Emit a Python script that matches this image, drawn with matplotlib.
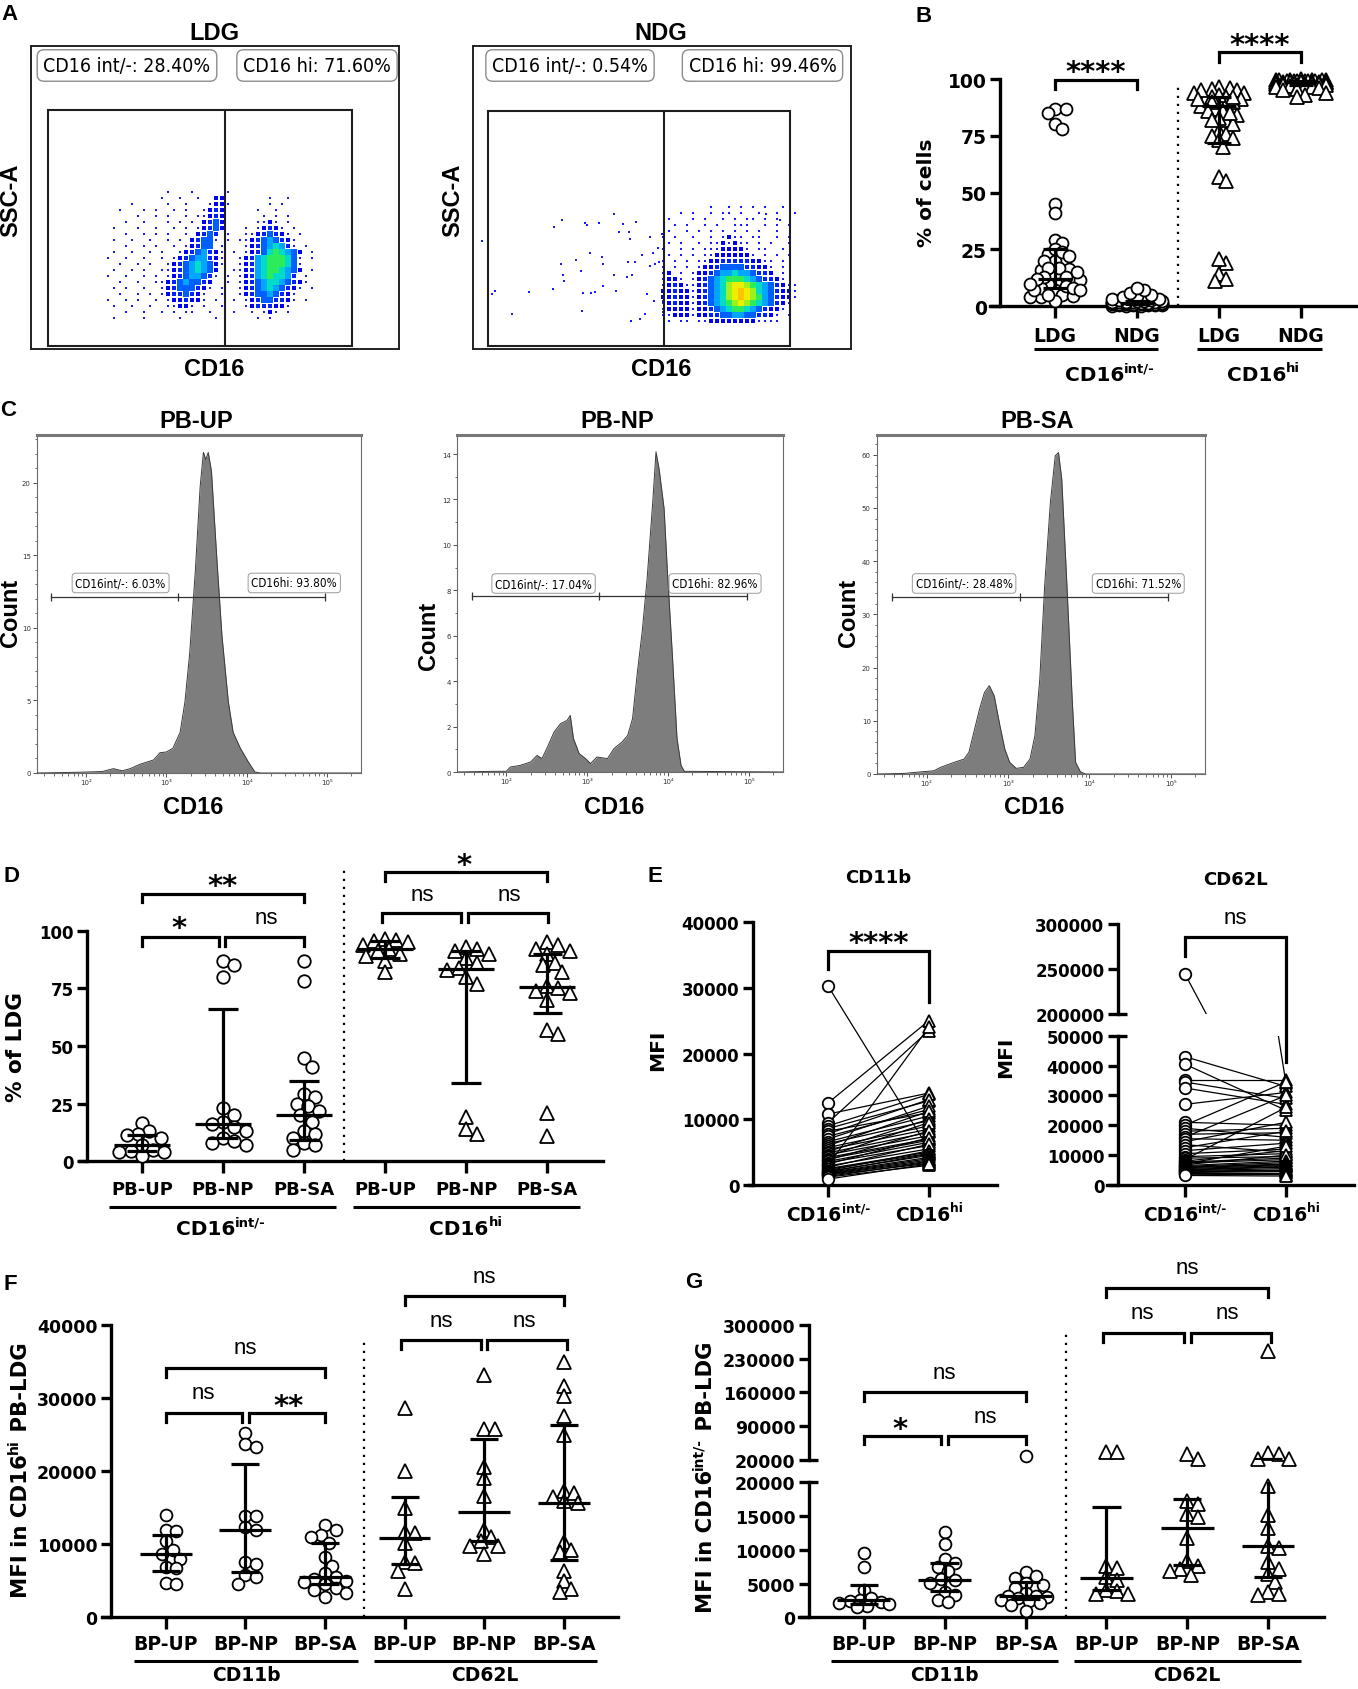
import numpy as np
import matplotlib
matplotlib.use('Agg')
import matplotlib.pyplot as plt
from matplotlib import font_manager
from matplotlib.patches import Rectangle
from matplotlib.transforms import blended_transform_factory
from matplotlib.ticker import FixedLocator, MultipleLocator, NullFormatter

# ============================ DATA ============================
# ---- Panel A: flow dot plots, density maps
# rows top->bottom, '.' = no events, 1..9,a = increasing event density
ldg_density = [
    "..........1...1.....1..............",
    ".........1..1..1..22.......1..1....",
    "....1.....1..1...1221......1.1.....",
    "..1...1.1..1.1..1232.....1..1......",
    ".....1..1.1..1.11232......1.1.1....",
    "...1..1...1.1.1.2342.....1121.1....",
    ".1...1..1..1.1.12342...1.12321.1...",
    "...1..1.1.1..1.2343.1..11234321.1..",
    ".1..1..1..1.1.23441.1.1123454321...",
    "...1..1.1..1.12344.1...123456531.1.",
    ".1..1..1.1..12345321.1.1234676542.1",
    "1..1..1..1.123455321..12356777641.1",
    "..1..1.1..1234565421..12356777641..",
    ".1..1.1..1123456542..112356776542.1",
    "1..1..1.1.123455431.1.1235676653.1.",
    "..1..1..1123454432..1.123456654321.",
    ".1.1..1..123444321.1..12345654321.1",
    "..1..1.1.12334321..1..1234454321...",
    "1..1.1..1.1223221.1..1.123443321.1.",
    ".1..1..1..11221.1..1...12333221....",
    "...1..1..1.1.11..1...1..1.121.1....",
    ".1....1.....1.....1......1.1.......",
]
ndg_density = [
    "........1..1.1.1.1..1...",
    "...1.1..1.11.1..1..1..1.",
    ".1...1.1..1.1.11.1.1....",
    "..1.1..1.1..111..1.1.1..",
    ".1..1.1.1.1.1.1.1..1....",
    "1.1..1..1.1211.11..1.1..",
    ".1.1..1.1121211.1.1..1..",
    "1..1.1.11122221.11..1...",
    ".1.1.1.112222221.1.1.1..",
    "1.1.1.1122333332211.1...",
    "1.1.1.1223444433221.1...",
    "12.1.12234556554332.1...",
    "1221.1234567776543321...",
    "12321123456899876543211.",
    "2232212345689a986543221.",
    "2232212345689a987543221.",
    "1232212345678987654321..",
    "122221223456776543221...",
    "11222122334455443321.1..",
    ".1.11.11222222221111....",
]
ndg_sparse_cd16 = [8.7, 18.7, 22, 38.7, 56.3, 79.7, 81, 88.7, 87.7, 90.3, 91, 103, 108, 109.3,
                   110.3, 112, 114.3, 117, 117.7, 122, 126.3, 128.7, 129.7, 129.7, 141, 141,
                   142.7, 145.7, 150.3, 153.7, 155.3, 156.3, 157, 159.3, 161.7, 162.7, 158,
                   167, 169, 172, 174.3, 177, 177, 180.3, 181.3, 182.3, 185.3, 186.3, 189.3,
                   189.7, 190.3, 307, 293]
ndg_sparse_ssc = [108.3, 55, 58.3, 35, 56.7, 60, 122.3, 129, 85, 74, 67.7, 89.3, 78.3, 37.7,
                  55.7, 125.7, 124.3, 95.7, 55.7, 56.7, 125.7, 92.3, 85, 63.3, 135, 74,
                  58.3, 116.7, 125, 72.3, 86.7, 116.7, 110, 74, 86.7, 126.7, 28.3,
                  30, 94.3, 35, 55, 112.3, 83.3, 95.7, 47.7, 85, 101, 86.7, 115,
                  36.7, 47.7, 129, 135]
ldg_gate_labels = ["CD16 int/-: 28.40%", "CD16 hi: 71.60%"]
ndg_gate_labels = ["CD16 int/-: 0.54%", "CD16 hi: 99.46%"]

# ---- Panel C: CD16 histograms (log10 CD16, count)
hist_titles = ["PB-UP", "PB-NP", "PB-SA"]
up_log = [1.39, 1.9, 2.2, 2.34, 2.45, 2.55, 2.67, 2.84, 2.92, 3.00, 3.08, 3.17, 3.23, 3.29,
          3.36, 3.42, 3.46, 3.49, 3.52, 3.56, 3.63, 3.69, 3.77, 3.83, 3.92, 4.02, 4.10, 4.17, 5.42]
up_cnt = [0, 0.05, 0.1, 0.3, 0.15, 0.3, 0.6, 0.9, 1.4, 1.45, 1.7, 2.8, 4.9, 8.3,
          14.0, 19.8, 22.1, 21.6, 22.1, 20.8, 14.5, 9.5, 4.9, 2.8, 1.7, 0.75, 0.07, 0, 0]
np_log = [1.39, 1.84, 2.0, 2.05, 2.17, 2.30, 2.38, 2.44, 2.50, 2.59, 2.67, 2.75, 2.79, 2.83,
          2.90, 2.98, 3.04, 3.12, 3.25, 3.33, 3.43, 3.50, 3.56, 3.62, 3.68, 3.74, 3.81, 3.85,
          3.89, 3.95, 3.99, 4.05, 4.11, 4.16, 4.20, 5.43]
np_cnt = [0, 0.03, 0.03, 0.22, 0.29, 0.44, 0.73, 0.59, 1.03, 1.76, 2.13, 2.27, 2.49, 1.47,
          0.81, 0.59, 0.37, 0.66, 0.59, 1.03, 1.32, 1.61, 2.35, 4.4, 6.2, 8.5, 11.9, 14.1,
          13.3, 11.6, 8.9, 5.3, 1.47, 0.29, 0.03, 0]
sa_log = [1.39, 1.72, 1.93, 2.09, 2.17, 2.34, 2.46, 2.52, 2.59, 2.65, 2.71, 2.77, 2.83, 2.90,
          2.96, 3.02, 3.10, 3.19, 3.27, 3.33, 3.39, 3.45, 3.52, 3.58, 3.62, 3.66, 3.72, 3.79,
          3.83, 3.89, 3.95, 5.43]
sa_cnt = [0, 0.1, 0.4, 0.6, 1.25, 2.2, 2.8, 4.1, 8.5, 12.2, 15.3, 16.6, 14.7, 9.1,
          4.7, 2.2, 1.06, 1.25, 2.8, 7.2, 17.8, 35.4, 51, 59.8, 60.4, 55.4, 36.6, 13.5,
          2.2, 0.4, 0, 0]
hist_gate_labels = [("CD16int/-: 6.03%", "CD16hi: 93.80%"),
                    ("CD16int/-: 17.04%", "CD16hi: 82.96%"),
                    ("CD16int/-: 28.48%", "CD16hi: 71.52%")]
hist_gate_count = [12.1, 7.73, 33.2]          # height of gate bar (count units)
hist_gate_log = [1.57, 3.15, 4.97]            # gate boundaries (log10 CD16)
hist_ymax = [23.3, 14.84, 63.7]
hist_yticks = [[0, 5, 10, 15, 20], [0, 2, 4, 6, 8, 10, 12, 14], [0, 10, 20, 30, 40, 50, 60]]

# ---- Panel D: % of LDG
d_groups = ["PB-UP", "PB-NP", "PB-SA"]
d_int_up = [16.5, 13, 12, 11.5, 10, 7, 5, 4.5, 4, 4, 2.5]
d_int_np = [87, 85, 80, 23, 20, 17, 16, 15, 13, 10, 9, 8, 7]
d_int_sa = [87, 78, 45, 41, 29, 28, 25, 24, 22, 20, 17, 13, 12, 10, 8, 7, 5]
d_hi_up = [96.5, 96, 95.5, 95, 94, 92, 91, 90, 89, 87, 82]
d_hi_np = [93, 92, 91, 90, 88, 86, 84, 83, 80, 77, 19, 14, 12]
d_hi_sa = [95, 94, 92, 91, 90, 86, 85, 82, 76, 75, 74, 73, 70, 57, 55, 21, 11]
d_int_med = [7, 16, 20];   d_int_q1 = [4.5, 10, 9.2];  d_int_q3 = [11.5, 66, 34.7]
d_hi_med = [92, 83.5, 75.7]; d_hi_q1 = [88, 34, 64.2]; d_hi_q3 = [95.5, 91, 89.9]

# ---- Panel B: % of cells, LDG vs NDG
b_groups = ["LDG", "NDG", "LDG", "NDG"]
b_ldg_int = d_int_up + d_int_np + d_int_sa
b_ndg_int = [0.2, 0.3, 0.3, 0.4, 0.5, 0.5, 0.6, 0.7, 0.8, 0.8, 0.9, 1.0, 1.0, 1.1, 1.2, 1.2,
             1.3, 1.4, 1.5, 1.5, 1.6, 1.7, 1.8, 2.0, 2.0, 2.1, 2.2, 2.4, 2.5, 2.6, 2.8, 3.0,
             3.2, 3.4, 3.6, 4.0, 4.5, 5.0, 6.0, 7.0, 8.0]
b_ldg_hi = d_hi_up + d_hi_np + d_hi_sa
b_ndg_hi = [99.8, 99.7, 99.7, 99.6, 99.5, 99.5, 99.4, 99.3, 99.2, 99.2, 99.1, 99.0, 99.0,
            98.9, 98.8, 98.8, 98.7, 98.6, 98.5, 98.5, 98.4, 98.3, 98.2, 98.0, 98.0, 97.9,
            97.8, 97.6, 97.5, 97.4, 97.2, 97.0, 96.8, 96.6, 96.4, 96.0, 95.5, 95.0, 94.0,
            93.0, 92.0]
b_med = [12, 1.5, 88, 98.5]; b_q1 = [8, 0.8, 72, 97.5]; b_q3 = [25, 2.5, 92, 99.2]

# ---- Panel E: paired MFI
e_cd11b_int = [30300, 12500, 10800, 9500, 9000, 8600, 8200, 7800, 7400, 7000, 6600, 6300, 6000,
               5700, 5400, 5100, 4900, 4600, 4400, 4200, 4000, 3800, 3600, 3400, 3200, 3000,
               2900, 2700, 2500, 2400, 2200, 2100, 2000, 1900, 1800, 1700, 1600, 1500, 1300,
               1200, 900]
e_cd11b_hi = [5500, 25000, 14000, 23500, 13800, 12800, 11000, 13000, 11500, 12000, 10500, 9800,
              11200, 9000, 8500, 10000, 8000, 7500, 9500, 7000, 6800, 8200, 6500, 6000, 7200,
              24000, 5500, 6200, 5000, 4800, 5200, 4500, 4700, 4200, 4000, 3800, 3600, 3300,
              3500, 3000, 3200]
e_cd62l_int = [245000, 43000, 40500, 35000, 34500, 32500, 27000, 21000, 20000, 19000, 18000,
               17000, 16000, 15500, 14500, 13500, 12500, 11500, 10500, 9500, 9000, 8500, 8000,
               7700, 7400, 7100, 6800, 6500, 6200, 6000, 5800, 5500, 5200, 5000, 4800, 4600,
               4400, 4200, 4000, 3600, 3200]
e_cd62l_hi = [34000, 33000, 25000, 35000, 29000, 27000, 31000, 20000, 34500, 16000, 19000,
              17500, 30000, 15000, 21000, 11000, 18000, 14000, 12000, 10500, 9500, 26000, 11500,
              9000, 8500, 13000, 10000, 8000, 7500, 7000, 6800, 6500, 6200, 6000, 5500, 5000,
              4800, 4500, 4000, 3500, 3000]

# ---- Panel F: MFI in CD16hi PB-LDG
f_groups = ["BP-UP", "BP-NP", "BP-SA"]
f_cd11b = [[14000, 11900, 11800, 10400, 9200, 8700, 8000, 6900, 6700, 4700, 4600],
           [25200, 23700, 23300, 13900, 13800, 12400, 11900, 7500, 7300, 5800, 5500, 4600],
           [12600, 12000, 11300, 11000, 10200, 8200, 7000, 6000, 5500, 5200, 5000, 4800, 4500,
            4000, 3800, 3300, 2800]]
f_cd62l = [[28600, 20000, 15000, 11700, 11500, 10200, 7500, 7400, 6400, 3900],
           [33200, 25800, 25700, 20600, 19000, 16600, 12000, 11000, 10500, 9800, 9700, 8700],
           [34900, 31700, 30300, 27600, 25000, 17300, 17000, 16500, 15900, 15700, 10300, 9200,
            9000, 6400, 5000, 3900, 3500]]
f_cd11b_med = [8700, 12000, 5500]; f_cd11b_q1 = [6300, 6200, 4600]; f_cd11b_q3 = [11300, 21000, 10100]
f_cd62l_med = [10900, 14400, 15700]; f_cd62l_q1 = [7300, 10400, 7800]; f_cd62l_q3 = [16500, 24400, 26300]

# ---- Panel G: MFI in CD16int/- PB-LDG
g_cd11b = [[9500, 7500, 4000, 2800, 2600, 2400, 2200, 2100, 1900, 1700, 1600],
           [12600, 10900, 8700, 8100, 7400, 6900, 5700, 5600, 5100, 3800, 3300, 2500, 2200],
           [28000, 6700, 6100, 5800, 5100, 4800, 4300, 3600, 3200, 3100, 3000, 2800, 2600, 2400,
            2100, 1800, 1000]]
g_cd62l = [[35500, 35000, 7600, 7300, 5900, 5600, 4100, 3900, 3500, 3400],
           [31800, 21400, 17200, 16800, 15300, 14800, 11700, 8300, 7600, 7100, 6800, 6200],
           [245000, 34000, 31800, 21400, 20500, 19500, 15200, 13200, 10500, 10200, 8200, 7200,
            6400, 5200, 3700, 3500, 3300]]
g_cd11b_med = [2500, 5600, 3200]; g_cd11b_q1 = [2000, 3850, 2700]; g_cd11b_q3 = [4800, 8100, 5200]
g_cd62l_med = [5750, 13200, 10500]; g_cd62l_q1 = [4000, 7800, 6000]; g_cd62l_q3 = [16300, 17500, 20500]

# ============================ STYLE ============================
plt.rcParams['font.family'] = ['Liberation Sans', 'DejaVu Sans']
plt.rcParams['font.weight'] = 'bold'
plt.rcParams['axes.linewidth'] = 1.0

_fonts = font_manager.fontManager.ttflist
HAS_DV_COND = any(f.name == 'DejaVu Sans' and str(f.stretch) == 'condensed' for f in _fonts)
HAS_NARROW = any(f.name == 'Liberation Sans Narrow' for f in _fonts)
FLOW_KW = dict(family='DejaVu Sans', stretch='condensed') if HAS_DV_COND else dict(family='DejaVu Sans')
FLOW_A_FS = 14 if HAS_DV_COND else 12.3
FLOW_C_FS = 8.4 if HAS_DV_COND else 7.4
NS_FAMILY = 'Liberation Sans Narrow' if HAS_NARROW else 'Liberation Sans'
NS_FS = 18 if HAS_NARROW else 16
STAR_FS = 21
GP = ['DejaVu Sans']          # font used for the GraphPad-style panels

W, H = 1358, 1690
fig = plt.figure(figsize=(W / 100, H / 100), dpi=100)
renderer = fig.canvas.get_renderer()


def add_ax(x0, y0, x1, y1):
    return fig.add_axes([x0 / W, 1 - y1 / H, (x1 - x0) / W, (y1 - y0) / H])


def ftext(x, y, s, **kw):
    kw.setdefault('ha', 'center')
    kw.setdefault('va', 'center')
    return fig.text(x / W, 1 - y / H, s, **kw)


def xtext(ax, x, py, s, **kw):
    tr = blended_transform_factory(ax.transData, fig.transFigure)
    kw.setdefault('ha', 'center')
    kw.setdefault('va', 'center')
    ax.text(x, 1 - py / H, s, transform=tr, clip_on=False, **kw)


def xline(ax, x0, x1, py, lw=2.2):
    tr = blended_transform_factory(ax.transData, fig.transFigure)
    ax.plot([x0, x1], [1 - py / H] * 2, transform=tr, color='k', lw=lw, clip_on=False,
            solid_capstyle='butt')


def text_width(s, fs):
    t = fig.text(0, 0, s, fontsize=fs, fontweight='bold', family=GP)
    w = t.get_window_extent(renderer).width
    t.remove()
    return w


def compose(cx, cy, parts, rotation=0):
    """parts: (text, fontsize, raise as fraction of base font px); cx, cy: image px, y from top"""
    widths = [text_width(s, fs) for s, fs, _ in parts]
    total = sum(widths)
    fs_px = parts[0][1] * 100 / 72
    if rotation == 0:
        x = cx - total / 2
        yb = (H - cy) - 0.36 * fs_px
        for (s, fs, r), w in zip(parts, widths):
            fig.text(x / W, (yb + r * fs_px) / H, s, fontsize=fs, fontweight='bold', family=GP,
                     ha='left', va='baseline')
            x += w
    else:
        y = (H - cy) - total / 2
        xb = cx + 0.36 * fs_px
        for (s, fs, r), w in zip(parts, widths):
            fig.text((xb - r * fs_px) / W, y / H, s, fontsize=fs, fontweight='bold', family=GP,
                     ha='left', va='baseline', rotation=90, rotation_mode='anchor')
            y += w


def sup_label(ax, x, py, base, sup, fs):
    cx = ax.transData.transform((x, 0))[0]
    compose(cx, py, [(base, fs, 0), (sup, fs * 0.66, 0.45)])


# panel letters
for lab, (x, y) in {'A': (10, 15), 'B': (924, 16), 'C': (8, 410), 'D': (11, 877),
                    'E': (655, 877), 'F': (10, 1285), 'G': (694, 1283)}.items():
    ftext(x, y, lab, fontsize=16, fontweight='bold')

# ============================ PANEL A ============================
LEVEL_COL = {1: '#1a1aff', 2: '#0000f2', 3: '#0022ff', 4: '#0060ff', 5: '#00a6ff',
             6: '#00dcc8', 7: '#2cec5a', 8: '#9cf21c', 9: '#eeee00', 10: '#ffc400'}
LEVEL_PX = {1: 2.3, 2: 3.2, 3: 4.2, 4: 5.2}


def render_density(ax, rows, x0, ytop, cell):
    pts = {}
    for r, row in enumerate(rows):
        for c, ch in enumerate(row):
            if ch in '.0 ':
                continue
            lv = 10 if ch == 'a' else int(ch)
            pts.setdefault(lv, []).append((x0 + cell * c + cell / 2, ytop - cell * r - cell / 2))
    for lv, p in sorted(pts.items()):
        p = np.array(p)
        px = LEVEL_PX.get(lv, cell + 0.4)
        ax.scatter(p[:, 0], p[:, 1], s=(px * 0.72) ** 2, marker='s', c=LEVEL_COL[lv],
                   linewidths=0, zorder=2)


def flow_box(ax, wbox, hbox, gate, line_x, labels, lab_x, lab_y):
    ax.set_xlim(0, wbox)
    ax.set_ylim(0, hbox)
    ax.set_xticks([])
    ax.set_yticks([])
    for s in ax.spines.values():
        s.set_linewidth(1.4)
        s.set_color('#222222')
    gx0, gy0, gx1, gy1 = gate
    ax.add_patch(Rectangle((gx0, gy0), gx1 - gx0, gy1 - gy0, fill=False, ec='#1e1e1e', lw=1.5, zorder=3))
    ax.plot([line_x, line_x], [gy0, gy1], color='#1e1e1e', lw=1.5, zorder=3)
    for s, x in zip(labels, lab_x):
        ax.text(x, lab_y, s, ha='center', va='center', fontsize=FLOW_A_FS, fontweight='normal',
                bbox=dict(boxstyle='round,pad=0.32,rounding_size=0.35', fc='white', ec='#8c8c8c', lw=1.0),
                zorder=4, **FLOW_KW)


axL = add_ax(31, 47, 399, 350)
flow_box(axL, 368, 303, (17, 3, 321, 239), 194, ldg_gate_labels, [96, 286], 283.5)
render_density(axL, ldg_density, 74, 160, 6)
ftext(214, 34, 'LDG', fontsize=17)
ftext(11, 200, 'SSC-A', fontsize=17, rotation=90)
ftext(214, 369, 'CD16', fontsize=17)

axN = add_ax(473, 47, 851, 350)
flow_box(axN, 378, 303, (15, 3, 317, 238), 191, ndg_gate_labels, [97, 289.5], 283.5)
render_density(axN, ndg_density, 187, 145, 6)
axN.scatter(ndg_sparse_cd16, ndg_sparse_ssc, s=(2.3 * 0.72) ** 2, marker='s', c=LEVEL_COL[1],
            linewidths=0, zorder=2)
ftext(661, 34, 'NDG', fontsize=17)
ftext(453, 200, 'SSC-A', fontsize=17, rotation=90)
ftext(661, 369, 'CD16', fontsize=17)

# ============================ PANEL C ============================
hist_boxes = [(37, 436, 361, 774), (457, 436, 783, 773), (877, 436, 1205, 775)]
hist_data = [(up_log, up_cnt), (np_log, np_cnt), (sa_log, sa_cnt)]
hist_title_x = [196, 617, 1037]
hist_count_xy = [(10, 613), (429, 636), (849, 613)]
hist_lab_log = [(2.43, 4.59), (2.46, 4.58), (2.46, 4.60)]
hist_lab_dy = [1.0, 0.57, 2.6]
for i in range(3):
    ax = add_ax(*hist_boxes[i])
    lx, cnt = hist_data[i]
    xs = 10 ** np.array(lx)
    ax.set_xscale('log')
    ax.set_xlim(10 ** 1.39, 10 ** 5.42)
    ax.set_ylim(0, hist_ymax[i])
    ax.fill_between(xs, cnt, 0, color='#7d7d7d', lw=0, zorder=2)
    ax.plot(xs, cnt, color='#3a3a3a', lw=0.7, zorder=3)
    for s in ax.spines.values():
        s.set_color('#6a6a6a')
        s.set_linewidth(0.8)
    ax.spines['top'].set_linewidth(2.2)
    ax.spines['top'].set_color('#777777')
    ax.set_yticks(hist_yticks[i])
    ax.set_yticklabels([str(t) for t in hist_yticks[i]], fontsize=5, fontweight='normal',
                       family='DejaVu Sans')
    step = hist_yticks[i][1] - hist_yticks[i][0]
    ax.yaxis.set_minor_locator(MultipleLocator(step / (5 if step >= 5 else 2)))
    ax.set_xticks([1e2, 1e3, 1e4, 1e5])
    ax.set_xticklabels(['10²', '10³', '10⁴', '10⁵'], fontsize=5, fontweight='normal',
                       family='DejaVu Sans')
    ax.xaxis.set_minor_locator(FixedLocator([m * 10 ** e for e in range(1, 6) for m in range(2, 10)]))
    ax.xaxis.set_minor_formatter(NullFormatter())
    ax.tick_params(which='major', length=3, width=0.6, colors='#333333', pad=1.5)
    ax.tick_params(which='minor', length=1.8, width=0.5, colors='#333333')
    gy = hist_gate_count[i]
    gl = 10 ** np.array(hist_gate_log)
    ax.plot([gl[0], gl[2]], [gy, gy], color='#333333', lw=0.9, zorder=4)
    ax.plot(gl, [gy] * 3, ls='none', marker='|', ms=6, mew=0.9, color='#333333', zorder=4)
    for s, lg in zip(hist_gate_labels[i], hist_lab_log[i]):
        ax.text(10 ** lg, gy + hist_lab_dy[i], s, ha='center', va='center', fontsize=FLOW_C_FS,
                fontweight='normal', zorder=5,
                bbox=dict(boxstyle='round,pad=0.28,rounding_size=0.3', fc='white', ec='#9a9a9a', lw=0.7),
                **FLOW_KW)
    ftext(hist_title_x[i], 421, hist_titles[i], fontsize=17)
    ftext(hist_count_xy[i][0], hist_count_xy[i][1], 'Count', fontsize=17, rotation=90)
    ftext(hist_title_x[i] - 3, 808, 'CD16', fontsize=17)


# ============================ GRAPHPAD HELPERS ============================
def gp_axes(ax, xlim, spine_x, ylim, yticks, xticks=None, bottom=True, fs=12.5, ylabels=None):
    ax.set_xlim(*xlim)
    ax.set_ylim(*ylim)
    ax.patch.set_visible(False)
    ax.spines['top'].set_visible(False)
    ax.spines['right'].set_visible(False)
    ax.spines['left'].set_position(('data', spine_x))
    ax.spines['left'].set_linewidth(2.4)
    ax.spines['bottom'].set_linewidth(2.4)
    ax.spines['bottom'].set_visible(bottom)
    ax.set_yticks(yticks)
    ax.set_yticklabels(ylabels if ylabels else [str(t) for t in yticks], fontsize=fs,
                       fontweight='bold', family=GP)
    ax.tick_params(axis='y', length=7, width=2.4, pad=2.5)
    if xticks is not None and bottom:
        ax.set_xticks(xticks)
        ax.set_xticklabels([])
        ax.tick_params(axis='x', length=8.5, width=2.4)
    else:
        ax.set_xticks([])


def swarm(ypx, d, maxw, mind_frac=0.85):
    ypx = np.asarray(ypx, float)
    order = np.argsort(-ypx, kind='stable')
    placed = []
    offs = np.zeros(len(ypx))
    mind = d * mind_frac
    step = d * 0.3
    cands = [0.0]
    k = 1
    while k * step <= maxw:
        cands += [k * step, -k * step]
        k += 1
    for i in order:
        y = ypx[i]
        best_o, best_pen = 0.0, None
        for o in cands:
            pen = 0.0
            for po, py in placed:
                dist = np.hypot(o - po, y - py)
                if dist < mind:
                    pen += mind - dist
            if pen == 0:
                best_o = o
                break
            if best_pen is None or pen < best_pen:
                best_o, best_pen = o, pen
        offs[i] = best_o
        placed.append((best_o, y))
    return offs


def draw_group(axmap, xc, vals, marker, stats, mw, cw, maxw, ms=8.5, mind=0.85, lw=2.3):
    vals = np.asarray(vals, float)
    axs = [axmap(v) for v in vals]
    ypx = [a.transData.transform((xc, v))[1] for a, v in zip(axs, vals)]
    dpx = ms / 0.72
    offs = swarm(ypx, dpx, maxw, mind)
    for a, v, o in zip(axs, vals, offs):
        p = a.transData.transform((xc, v))
        xd = a.transData.inverted().transform((p[0] + o, p[1]))[0]
        a.plot([xd], [v], ls='none', marker=marker, ms=ms * (1.12 if marker == '^' else 1.0),
               mfc='white', mec='black', mew=1.3, clip_on=False, zorder=3)
    med, q1, q3 = stats
    used = []
    for v in (med, q1, q3):
        a = axmap(v)
        if a not in used:
            used.append(a)
    for a in used:
        a.plot([xc, xc], [q1, q3], color='k', lw=lw, zorder=4, solid_capstyle='butt')
    axmap(med).plot([xc - mw / 2, xc + mw / 2], [med, med], color='k', lw=lw, zorder=4,
                    solid_capstyle='butt')
    for q in (q1, q3):
        axmap(q).plot([xc - cw / 2, xc + cw / 2], [q, q], color='k', lw=lw, zorder=4,
                      solid_capstyle='butt')


def sig_bar(ax, x0, x1, y, yl0, yl1=None, lw=2.3):
    if yl1 is None:
        yl1 = yl0
    ax.plot([x0, x0, x1, x1], [yl0, y, y, yl1], color='k', lw=lw, clip_on=False,
            solid_joinstyle='miter', zorder=5)


def sig_text(ax, x, yc, s):
    if '*' in s:
        ax.annotate(s, (x, yc), xytext=(0, -0.6 * STAR_FS), textcoords='offset points',
                    ha='center', va='baseline', fontsize=STAR_FS, family='DejaVu Sans',
                    fontweight='bold', annotation_clip=False)
    else:
        ax.annotate(s, (x, yc), xytext=(0, -0.27 * NS_FS), textcoords='offset points',
                    ha='center', va='baseline', fontsize=NS_FS, family=NS_FAMILY,
                    fontweight='normal', annotation_clip=False)


def break_mark(ax, spine_x, v, dx_units):
    ax.plot([spine_x, spine_x + dx_units], [v, v], color='k', lw=2.4, clip_on=False,
            solid_capstyle='butt')


# ============================ PANEL B ============================
axB = add_ax(990, 80, 1357, 307.3)
gp_axes(axB, (-0.793, 3.683), -0.671, (0, 100), [0, 25, 50, 75, 100], xticks=[0, 1, 2, 3], fs=13.5)
b_vals = [b_ldg_int, b_ndg_int, b_ldg_hi, b_ndg_hi]
for i in range(4):
    draw_group(lambda v: axB, i, b_vals[i], 'o' if i < 2 else '^', (b_med[i], b_q1[i], b_q3[i]),
               0.42, 0.3, 27, ms=8.6, mind=0.62)
axB.plot([1.5, 1.5], [0, 96.9], color='k', ls=(0, (1, 2.6)), lw=1.6, clip_on=False)
sig_bar(axB, 0, 1, 99.6, 95.6)
sig_text(axB, 0.5, 107.3, '****')
sig_bar(axB, 2, 3, 111.9, 107.5)
sig_text(axB, 2.5, 119, '****')
for i, g in enumerate(b_groups):
    xtext(axB, i, 336, g, fontsize=13.5, family=GP)
xline(axB, -0.256, 1.256, 350)
xline(axB, 1.73, 3.256, 350)
sup_label(axB, 0.67, 374, 'CD16', 'int/-', 14.5)
sup_label(axB, 2.54, 374, 'CD16', 'hi', 14.5)
ftext(927, 193, '% of cells', fontsize=14.5, rotation=90, family=GP)

# ============================ PANEL D ============================
axD = add_ax(80, 931.7, 603, 1162.3)
gp_axes(axD, (-0.765, 5.69), -0.679, (0, 100), [0, 25, 50, 75, 100], xticks=list(range(6)), fs=12)
d_int = [d_int_up, d_int_np, d_int_sa]
d_hi = [d_hi_up, d_hi_np, d_hi_sa]
for i in range(3):
    draw_group(lambda v: axD, i, d_int[i], 'o', (d_int_med[i], d_int_q1[i], d_int_q3[i]),
               0.69, 0.36, 27, ms=9)
    draw_group(lambda v: axD, 3 + i, d_hi[i], '^', (d_hi_med[i], d_hi_q1[i], d_hi_q3[i]),
               0.69, 0.36, 27, ms=9)
axD.plot([2.49, 2.49], [0, 126.8], color='k', ls=(0, (1, 2.6)), lw=1.6, clip_on=False)
sig_bar(axD, 0, 2, 115.9, 112.4)
sig_text(axD, 1, 123.3, '**')
sig_bar(axD, 0, 0.95, 97.3, 93.4)
sig_bar(axD, 1.03, 2, 97.3, 93.4)
sig_text(axD, 0.46, 105.1, '*')
sig_text(axD, 1.53, 105.9, 'ns')
sig_bar(axD, 3, 5, 125.5, 121.5)
sig_text(axD, 3.98, 132.4, '*')
sig_bar(axD, 2.96, 3.94, 107.7, 103.8)
sig_bar(axD, 4.02, 5.01, 107.7, 103.8)
sig_text(axD, 3.46, 115.9, 'ns')
sig_text(axD, 4.53, 115.9, 'ns')
for i in range(6):
    xtext(axD, i, 1190, d_groups[i % 3], fontsize=13, family=GP)
xline(axD, -0.41, 2.40, 1208)
xline(axD, 2.60, 5.40, 1208)
sup_label(axD, 0.975, 1228, 'CD16', 'int/-', 14.5)
sup_label(axD, 4.0, 1228, 'CD16', 'hi', 14.5)
ftext(16, 1047, '% of LDG', fontsize=15.5, rotation=90, family=GP)

# ============================ PANEL E ============================
axE1 = add_ax(749, 923.3, 997, 1186)
gp_axes(axE1, (-0.785, 1.678), -0.75, (0, 40000), [0, 10000, 20000, 30000, 40000],
        xticks=[0, 1], fs=12)
for a, b in zip(e_cd11b_int, e_cd11b_hi):
    axE1.plot([0, 1], [a, b], color='k', lw=0.9, zorder=2)
axE1.plot(np.zeros(len(e_cd11b_int)), e_cd11b_int, ls='none', marker='o', ms=8.3, mfc='white',
          mec='k', mew=1.3, clip_on=False, zorder=3)
axE1.plot(np.ones(len(e_cd11b_hi)), e_cd11b_hi, ls='none', marker='^', ms=9.2, mfc='white',
          mec='k', mew=1.3, clip_on=False, zorder=3)
sig_bar(axE1, 0, 1, 35670, 32890, 27860)
sig_text(axE1, 0.5, 38370, '****')
ftext(878, 878, 'CD11b', fontsize=13, family=GP)
ftext(658, 1050, 'MFI', fontsize=14.5, rotation=90, family=GP)
sup_label(axE1, 0, 1214, 'CD16', 'int/-', 13.5)
sup_label(axE1, 1, 1214, 'CD16', 'hi', 13.5)

axE2 = add_ax(1107, 1036.7, 1354, 1186)
axE3 = add_ax(1107, 925, 1354, 1015)
gp_axes(axE2, (-0.767, 1.671), -0.663, (0, 50000), [0, 10000, 20000, 30000, 40000, 50000],
        xticks=[0, 1], fs=12)
gp_axes(axE3, (-0.767, 1.671), -0.663, (200000, 300000), [200000, 250000, 300000],
        bottom=False, fs=12)
e_map = lambda v: axE2 if v <= 50000 else axE3
for axx in (axE2, axE3):
    for a, b in zip(e_cd62l_int, e_cd62l_hi):
        axx.plot([0, 1], [a, b], color='k', lw=0.9, zorder=2)
for v in e_cd62l_int:
    e_map(v).plot([0], [v], ls='none', marker='o', ms=8.3, mfc='white', mec='k', mew=1.3,
                  clip_on=False, zorder=3)
for v in e_cd62l_hi:
    e_map(v).plot([1], [v], ls='none', marker='^', ms=9.2, mfc='white', mec='k', mew=1.3,
                  clip_on=False, zorder=3)
break_mark(axE2, -0.663, 50000, 0.09)
break_mark(axE3, -0.663, 200000, 0.09)
sig_bar(axE3, 0, 1, 285900, 264800, 146667)
sig_text(axE3, 0.5, 307800, 'ns')
ftext(1235, 880, 'CD62L', fontsize=13, family=GP)
ftext(1006, 1057, 'MFI', fontsize=14.5, rotation=90, family=GP)
sup_label(axE2, 0, 1214, 'CD16', 'int/-', 13.5)
sup_label(axE2, 1, 1214, 'CD16', 'hi', 13.5)

# ============================ PANEL F ============================
axF = add_ax(102, 1326, 618, 1618.3)
gp_axes(axF, (-0.80, 5.68), -0.692, (0, 40000), [0, 10000, 20000, 30000, 40000],
        xticks=list(range(6)), fs=12.5)
for i in range(3):
    draw_group(lambda v: axF, i, f_cd11b[i], 'o', (f_cd11b_med[i], f_cd11b_q1[i], f_cd11b_q3[i]),
               0.65, 0.35, 26, ms=8.5)
    draw_group(lambda v: axF, 3 + i, f_cd62l[i], '^', (f_cd62l_med[i], f_cd62l_q1[i], f_cd62l_q3[i]),
               0.65, 0.35, 26, ms=8.5)
axF.plot([2.49, 2.49], [0, 37670], color='k', ls=(0, (1, 2.6)), lw=1.6, clip_on=False)
sig_bar(axF, 0, 2, 34070, 32880)
sig_text(axF, 1, 36990, 'ns')
sig_bar(axF, 0, 0.96, 27960, 26730)
sig_bar(axF, 1.04, 2, 27960, 26730)
sig_text(axF, 0.47, 30830, 'ns')
sig_text(axF, 1.54, 30280, '**')
sig_bar(axF, 3, 5, 44010, 42730)
sig_text(axF, 4, 46740, 'ns')
sig_bar(axF, 2.96, 3.96, 37990, 36710)
sig_bar(axF, 4.04, 5.04, 37990, 36710)
sig_text(axF, 3.46, 40680, 'ns')
sig_text(axF, 4.5, 40680, 'ns')
for i in range(6):
    xtext(axF, i, 1645, f_groups[i % 3], fontsize=13.5, family=GP)
xline(axF, -0.40, 2.42, 1662)
xline(axF, 2.62, 5.41, 1662)
xtext(axF, 1.01, 1676, 'CD11b', fontsize=13.5, family=GP)
xtext(axF, 4.01, 1676, 'CD62L', fontsize=13.5, family=GP)
compose(19.5, 1470, [('MFI in CD16', 15.3, 0), ('hi', 10.1, 0.45), (' PB-LDG', 15.3, 0)], rotation=90)

# ============================ PANEL G ============================
axG1 = add_ax(799, 1483.3, 1324, 1618.3)
axG2 = add_ax(799, 1326, 1324, 1460.7)
gp_axes(axG1, (-0.80, 5.69), -0.679, (0, 20000), [0, 5000, 10000, 15000, 20000],
        xticks=list(range(6)), fs=12.5)
gp_axes(axG2, (-0.80, 5.69), -0.679, (20000, 300000), [20000, 90000, 160000, 230000, 300000],
        bottom=False, fs=12.5)
g_map = lambda v: axG1 if v <= 20000 else axG2
for i in range(3):
    draw_group(g_map, i, g_cd11b[i], 'o', (g_cd11b_med[i], g_cd11b_q1[i], g_cd11b_q3[i]),
               0.65, 0.35, 26, ms=8.5)
    draw_group(g_map, 3 + i, g_cd62l[i], '^', (g_cd62l_med[i], g_cd62l_q1[i], g_cd62l_q3[i]),
               0.65, 0.35, 26, ms=8.5)
break_mark(axG1, -0.679, 20000, 0.11)
break_mark(axG2, -0.679, 20000, 0.11)
axG1.plot([2.5, 2.5], [0, 42270], color='k', ls=(0, (1, 2.6)), lw=1.6, clip_on=False)
sig_bar(axG2, 0, 2, 160100, 142600)
sig_text(axG2, 1, 202300, 'ns')
sig_bar(axG2, 0, 0.96, 69900, 52600)
sig_bar(axG2, 1.04, 2, 69900, 52600)
sig_text(axG2, 0.45, 104600, '*')
sig_text(axG2, 1.5, 111500, 'ns')
sig_bar(axG2, 3, 5, 377000, 357600)
sig_text(axG2, 4, 420600, 'ns')
sig_bar(axG2, 2.96, 3.96, 283400, 265300)
sig_bar(axG2, 4.04, 5.04, 283400, 265300)
sig_text(axG2, 3.45, 327000, 'ns')
sig_text(axG2, 4.5, 327000, 'ns')
for i in range(6):
    xtext(axG1, i, 1645, f_groups[i % 3], fontsize=13.5, family=GP)
xline(axG1, -0.40, 2.40, 1662)
xline(axG1, 2.60, 5.41, 1662)
xtext(axG1, 1.0, 1676, 'CD11b', fontsize=13.5, family=GP)
xtext(axG1, 4.0, 1676, 'CD62L', fontsize=13.5, family=GP)
compose(704, 1477, [('MFI in CD16', 15.2, 0), ('int/-', 10.0, 0.45), (' PB-LDG', 15.2, 0)], rotation=90)

fig.savefig('out.png', dpi=100)
